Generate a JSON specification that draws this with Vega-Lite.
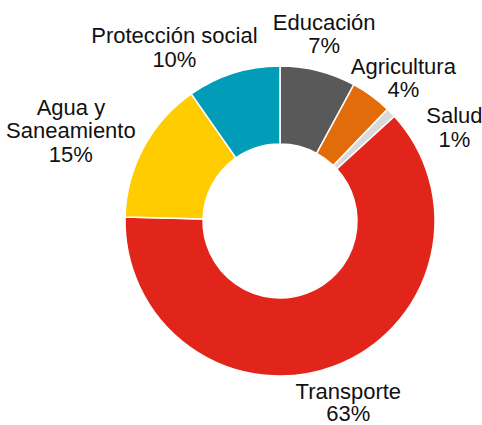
{
  "$schema": "https://vega.github.io/schema/vega-lite/v6.json",
  "width": 324,
  "height": 324,
  "autosize": {"type": "none"},
  "padding": {"left": 118, "top": 59, "right": 40, "bottom": 42},
  "background": "white",
  "config": {"view": {"stroke": null}, "text": {"font": "Liberation Sans", "fontSize": 22, "color": "#111111"}},
  "data": {
    "values": [
      {"i": 1, "cat": "Educación", "value": 7.9, "label": "Educación\n7%"},
      {"i": 2, "cat": "Agricultura", "value": 4.3, "label": "Agricultura\n4%"},
      {"i": 3, "cat": "Salud", "value": 1.0, "label": "Salud\n1%"},
      {"i": 4, "cat": "Transporte", "value": 62.2, "label": "Transporte\n63%"},
      {"i": 5, "cat": "Agua y Saneamiento", "value": 14.9, "label": "Agua y\nSaneamiento\n15%"},
      {"i": 6, "cat": "Protección social", "value": 9.7, "label": "Protección social\n10%"}
    ]
  },
  "encoding": {
    "theta": {"field": "value", "type": "quantitative", "stack": true},
    "order": {"field": "i", "type": "quantitative"}
  },
  "layer": [
    {
      "mark": {"type": "arc", "innerRadius": 77, "outerRadius": 155, "stroke": "white", "strokeWidth": 1.5},
      "encoding": {
        "color": {
          "field": "cat",
          "type": "nominal",
          "scale": {
            "domain": ["Educación", "Agricultura", "Salud", "Transporte", "Agua y Saneamiento", "Protección social"],
            "range": ["#595959", "#E36C0A", "#D9D9D9", "#E1251B", "#FFCC00", "#009CB8"]
          },
          "legend": null
        }
      }
    },
    {
      "mark": {"type": "text", "radius": 192, "lineBreak": "\n", "lineHeight": 23, "baseline": "middle", "align": "center", "dx": -3, "dy": -11.5},
      "encoding": {"text": {"condition": {"test": "datum.cat === 'Educación'", "field": "label"}, "value": ""}}
    },
    {
      "mark": {"type": "text", "radius": 192, "lineBreak": "\n", "lineHeight": 23, "baseline": "middle", "align": "center", "dx": 10, "dy": 0.5},
      "encoding": {"text": {"condition": {"test": "datum.cat === 'Agricultura'", "field": "label"}, "value": ""}}
    },
    {
      "mark": {"type": "text", "radius": 192, "lineBreak": "\n", "lineHeight": 24, "baseline": "middle", "align": "center", "dx": 37, "dy": 29.5},
      "encoding": {"text": {"condition": {"test": "datum.cat === 'Salud'", "field": "label"}, "value": ""}}
    },
    {
      "mark": {"type": "text", "radius": 192, "lineBreak": "\n", "lineHeight": 22, "baseline": "middle", "align": "center", "dx": 1, "dy": -8.5},
      "encoding": {"text": {"condition": {"test": "datum.cat === 'Transporte'", "field": "label"}, "value": ""}}
    },
    {
      "mark": {"type": "text", "radius": 192, "lineBreak": "\n", "lineHeight": 23.3, "baseline": "middle", "align": "center", "dx": -40, "dy": -22},
      "encoding": {"text": {"condition": {"test": "datum.cat === 'Agua y Saneamiento'", "field": "label"}, "value": ""}}
    },
    {
      "mark": {"type": "text", "radius": 192, "lineBreak": "\n", "lineHeight": 24, "baseline": "middle", "align": "center", "dx": -48, "dy": -1.5},
      "encoding": {"text": {"condition": {"test": "datum.cat === 'Protección social'", "field": "label"}, "value": ""}}
    }
  ]
}
